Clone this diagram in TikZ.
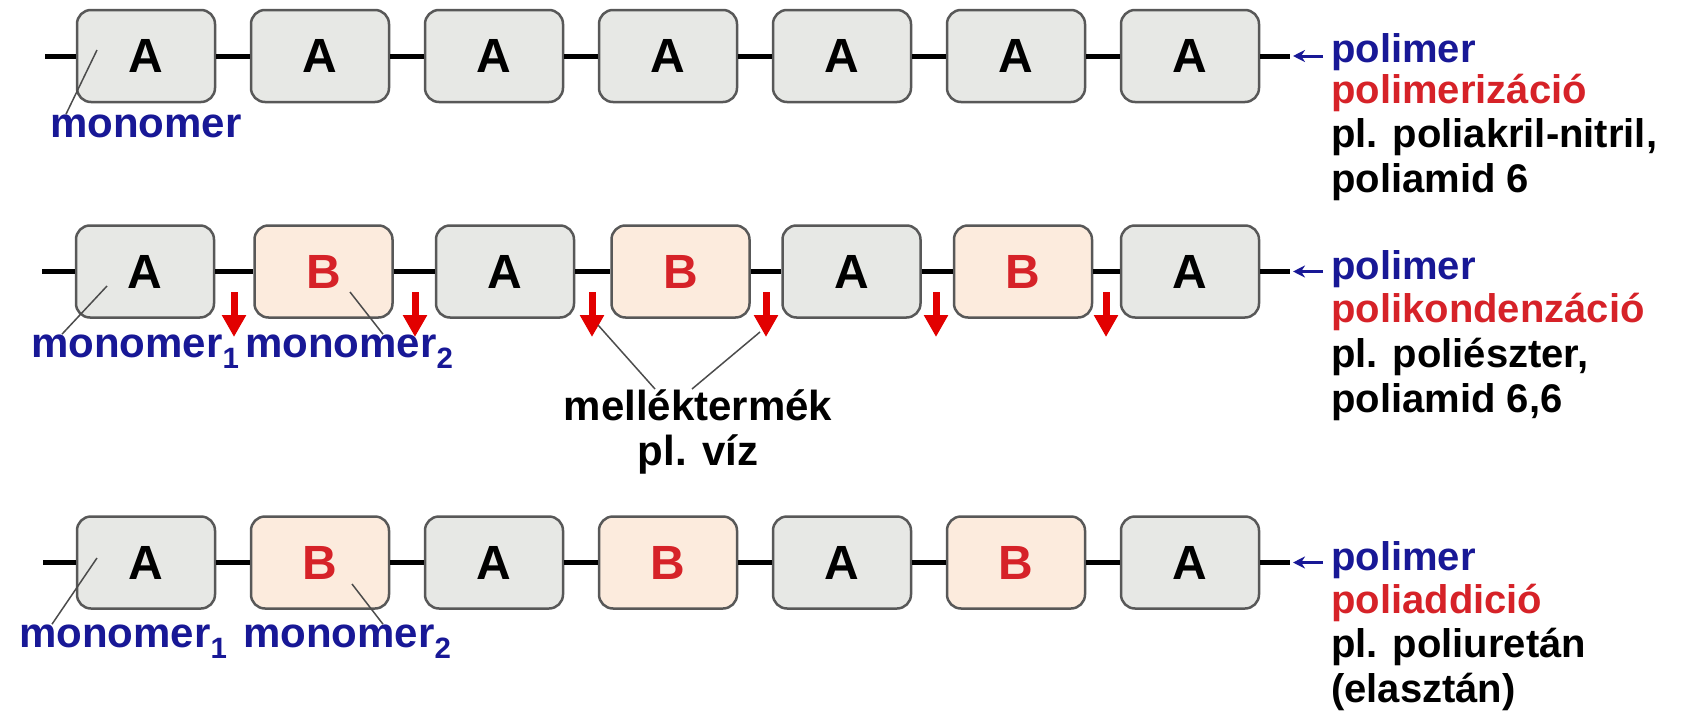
\documentclass[tikz,border=0pt]{standalone}
\usepackage{fontspec}
\setmainfont{Liberation Sans}
\usepackage{tikz}
\usetikzlibrary{arrows.meta}

\definecolor{unitgray}{RGB}{231,232,229}
\definecolor{unitpeach}{RGB}{252,235,221}
\definecolor{edgegray}{RGB}{88,88,88}
\definecolor{monoblue}{RGB}{24,24,150}
\definecolor{procred}{RGB}{214,34,40}
\definecolor{lossred}{RGB}{226,0,0}

\begin{document}
\begin{tikzpicture}[x=1pt,y=-1pt,
  unitA/.style={draw=edgegray,line width=2.5pt,rounded corners=14pt,fill=unitgray,
    minimum width=138pt,minimum height=92pt,inner sep=0pt,
    font=\fontsize{48}{50}\selectfont\bfseries},
  unitB/.style={unitA,fill=unitpeach,text=procred},
  bond/.style={line width=5pt},
  lbl/.style={inner sep=0pt,font=\fontsize{42}{45}\selectfont\bfseries},
  side/.style={inner sep=0pt,anchor=base west,font=\fontsize{40}{45}\selectfont\bfseries},
  leader/.style={draw=black!70,line width=1.5pt},
  loss/.style={lossred,line width=7pt,-{Triangle[width=23pt,length=22pt]}},
  ptr/.style={monoblue,line width=3pt,-{Stealth[width=12pt,length=12pt]},
    shorten <=8pt,shorten >=3pt}]
\useasboundingbox (0,0) rectangle (1698,720);

% polimerizacio
\coordinate (polyS) at (45,56);
\coordinate (polyE) at (1290,56);
\foreach \i in {1,...,7}
  \node[unitA] (poly\i) at ({146+174*(\i-1)},56) {A};
\foreach \i [count=\j from 2] in {1,...,6}
  \draw[bond] (poly\i) -- (poly\j);
\draw[bond] (polyS) -- (poly1);
\draw[bond] (poly7) -- (polyE);

\node[lbl,text=monoblue,anchor=base west] (mono) at (50,137) {monomer};
\coordinate (pinP) at (97,50);
\draw[leader] ([xshift=16pt]mono.north west) -- (pinP);

\node[side,text=monoblue] (nameP) at (1331,62) {polimer};
\node[side,text=procred] (procP) at (1331,103) {polimerizáció};
\node[side] (exP1) at (1331,147) {pl. poliakril-nitril,};
\node[side] (exP2) at (1331,192) {poliamid 6};
\draw[ptr] (nameP.west |- polyE) -- (polyE);

% polikondenzacio
\coordinate (condS) at (42,271.5);
\coordinate (condE) at (1290,271.5);
\foreach \x/\lt [count=\i] in {145/A,323.5/B,505/A,680.5/B,851.5/A,1023/B,1190/A}
  \node[unit\lt] (cond\i) at (\x,271.5) {\lt};
\foreach \i [count=\j from 2] in {1,...,6}
  \draw[bond] (cond\i) -- (cond\j);
\draw[bond] (condS) -- (cond1);
\draw[bond] (cond7) -- (condE);

\foreach \x [count=\i] in {234,415,592,766,936,1106}{
  \coordinate (drop\i) at (\x,292);
  \coordinate (tip\i) at (\x,337);
  \draw[loss] (drop\i) -- (tip\i);
}

\node[lbl,text=monoblue,anchor=base west] (monoC1) at (31,357) {monomer\textsubscript{1}};
\node[lbl,text=monoblue,anchor=base west] (monoC2) at (245,357) {monomer\textsubscript{2}};
\coordinate (pinC1) at (107,286);
\coordinate (pinC2) at (350,292);
\draw[leader] ([xshift=31pt]monoC1.north west) -- (pinC1);
\draw[leader] ([xshift=138pt]monoC2.north west) -- (pinC2);

\node[lbl,align=center,anchor=north] (byprod) at (698,389) {melléktermék\\pl. víz};
\draw[leader] ([xshift=-43pt]byprod.north) -- ([xshift=6pt,yshift=12pt]tip3);
\draw[leader] ([xshift=-6pt]byprod.north) -- ([xshift=-6pt,yshift=5pt]tip4);

\node[side,text=monoblue] (nameC) at (1331,279) {polimer};
\node[side,text=procred] (procC) at (1331,322) {polikondenzáció};
\node[side] (exC1) at (1331,367) {pl. poliészter,};
\node[side] (exC2) at (1331,412) {poliamid 6,6};
\draw[ptr] (nameC.west |- condE) -- (condE);

% poliaddicio
\coordinate (addS) at (43,562.5);
\coordinate (addE) at (1290,562.5);
\foreach \lt [count=\i] in {A,B,A,B,A,B,A}
  \node[unit\lt] (add\i) at ({146+174*(\i-1)},562.5) {\lt};
\foreach \i [count=\j from 2] in {1,...,6}
  \draw[bond] (add\i) -- (add\j);
\draw[bond] (addS) -- (add1);
\draw[bond] (add7) -- (addE);

\node[lbl,text=monoblue,anchor=base west] (monoA1) at (19,647) {monomer\textsubscript{1}};
\node[lbl,text=monoblue,anchor=base west] (monoA2) at (243,647) {monomer\textsubscript{2}};
\coordinate (pinA1) at (97,558);
\coordinate (pinA2) at (352,584);
\draw[leader] ([xshift=33pt]monoA1.north west) -- (pinA1);
\draw[leader] ([xshift=140pt]monoA2.north west) -- (pinA2);

\node[side,text=monoblue] (nameA) at (1331,570) {polimer};
\node[side,text=procred] (procA) at (1331,613) {poliaddició};
\node[side] (exA1) at (1331,657) {pl. poliuretán};
\node[side] (exA2) at (1331,702) {(elasztán)};
\draw[ptr] (nameA.west |- addE) -- (addE);
\end{tikzpicture}
\end{document}
